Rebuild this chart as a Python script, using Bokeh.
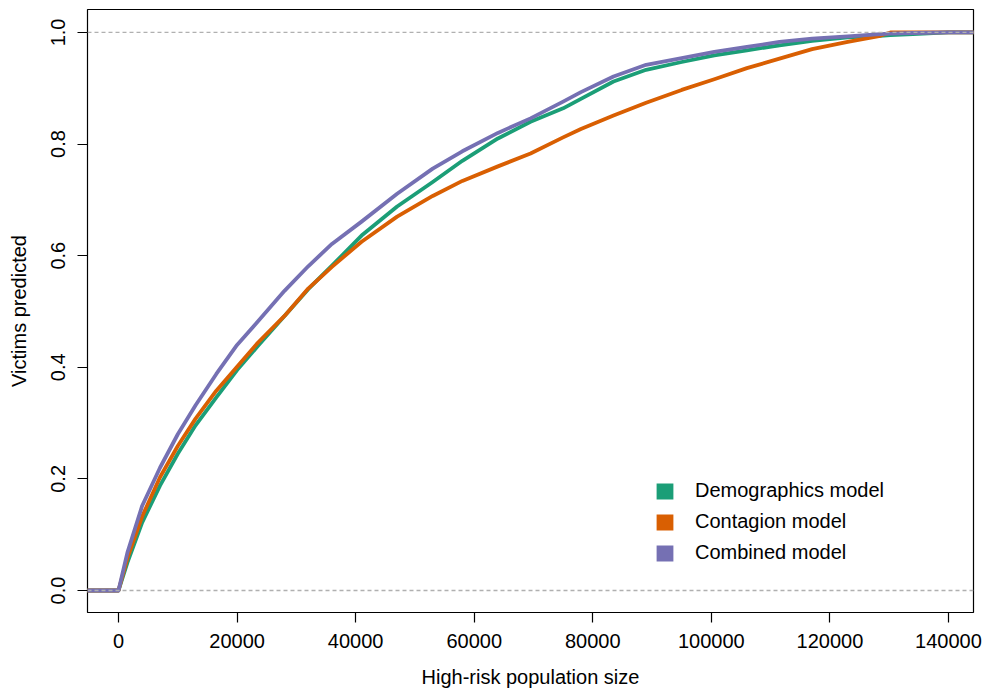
from bokeh.plotting import figure
from bokeh.models import Span, Legend, LegendItem, FixedTicker, Range1d
from bokeh.embed import file_html
from bokeh.resources import INLINE

nan = float("nan")

# ---- data ----
x_vals = [-6000, 0, 1500, 4000, 7000, 10000, 13000, 16500, 20000, 23500, 28000,
          32000, 36000, 41000, 47000, 53000, 58000, 64000, 69500, 75000, 78000,
          83500, 89000, 95000, 100500, 106000, 111500, 117000, 123000, 128500,
          130200, 134000, 140000, 146000]

demographics = [0, 0, 0.050, 0.122, 0.188, 0.245, 0.296, 0.346, 0.395, 0.438, 0.492,
                0.540, 0.582, 0.636, 0.688, 0.732, 0.770, 0.810, 0.840, 0.864, 0.881,
                0.912, 0.933, 0.947, 0.959, 0.968, 0.977, 0.985, 0.991, 0.994,
                0.995, 0.997, 1.0, 1.0]

contagion = [0, 0, 0.058, 0.133, 0.203, 0.259, 0.308, 0.358, 0.401, 0.444, 0.492,
             0.541, 0.580, 0.625, 0.670, 0.707, 0.734, 0.760, 0.783, 0.812, 0.827,
             0.851, 0.874, 0.897, 0.916, 0.936, 0.953, 0.970, 0.983, 0.994,
             1.0, 1.0, 1.0, 1.0]

combined = [0, 0, 0.068, 0.152, 0.220, 0.280, 0.332, 0.388, 0.440, 0.482, 0.537,
            0.581, 0.621, 0.661, 0.711, 0.756, 0.787, 0.820, 0.846, 0.876, 0.893,
            0.921, 0.942, 0.954, 0.965, 0.974, 0.983, 0.989, 0.993, 0.997,
            0.998, 0.999, 1.0, 1.0]

series_names = ["Demographics model", "Contagion model", "Combined model"]
series_colors = ["#1B9E77", "#D95F02", "#7570B3"]

x_ticks = [0, 20000, 40000, 60000, 80000, 100000, 120000, 140000]
x_tick_labels = ["0", "20000", "40000", "60000", "80000", "100000", "120000", "140000"]
y_ticks = [0.0, 0.2, 0.4, 0.6, 0.8, 1.0]
y_tick_labels = ["0.0", "0.2", "0.4", "0.6", "0.8", "1.0"]

FONT = "Liberation Sans"

p = figure(width=985, height=690, output_backend="svg", toolbar_location=None,
           x_range=Range1d(-5230, 144220), y_range=Range1d(-0.0394, 1.0411),
           min_border_left=87, min_border_right=12, min_border_top=9,
           min_border_bottom=77)

p.background_fill_color = "white"
p.border_fill_color = "white"
p.outline_line_color = "black"
p.outline_line_width = 1.2
p.xgrid.visible = False
p.ygrid.visible = False

renderers = []
for ys, col in zip([demographics, contagion, combined], series_colors):
    r = p.line(x_vals, ys, line_color=col, line_width=3.8, line_join="round")
    renderers.append(r)

for yv in [0.0, 1.0]:
    p.add_layout(Span(location=yv, dimension="width", line_color="#b0b0b0",
                      line_width=1.3, line_dash="4 3"))

# axes
p.xaxis.ticker = FixedTicker(ticks=x_ticks)
p.xaxis.major_label_overrides = {t: l for t, l in zip(x_ticks, x_tick_labels)}
p.yaxis.ticker = FixedTicker(ticks=y_ticks)
p.yaxis.major_label_overrides = {t: l for t, l in zip(y_ticks, y_tick_labels)}
p.yaxis.major_label_orientation = "vertical"

for ax in [p.xaxis[0], p.yaxis[0]]:
    ax.axis_line_color = None
    ax.major_tick_line_color = "black"
    ax.major_tick_line_width = 1.2
    ax.major_tick_out = 10
    ax.major_tick_in = 0
    ax.minor_tick_line_color = None
    ax.major_label_text_font = FONT
    ax.major_label_text_font_size = "20px"
    ax.major_label_text_color = "black"
    ax.axis_label_text_font = FONT
    ax.axis_label_text_font_size = "20px"
    ax.axis_label_text_font_style = "normal"
    ax.axis_label_text_color = "black"

p.xaxis.axis_label = "High-risk population size"
p.yaxis.axis_label = "Victims predicted"
p.xaxis.major_label_standoff = 11
p.yaxis.major_label_standoff = 12
p.xaxis.axis_label_standoff = 15
p.yaxis.axis_label_standoff = 19

# legend with filled squares
legend_items = []
for name, col in zip(series_names, series_colors):
    q = p.quad(left=[nan], right=[nan], top=[nan], bottom=[nan],
               fill_color=col, line_color=None)
    legend_items.append(LegendItem(label=name, renderers=[q]))

legend = Legend(items=legend_items, location=(567, 48), orientation="vertical",
                padding=0, margin=0, spacing=8, glyph_width=21, glyph_height=20,
                label_height=20, label_standoff=20,
                label_text_font=FONT, label_text_font_size="20px",
                label_text_color="black",
                border_line_color=None, background_fill_alpha=0)
p.add_layout(legend)

open("out.html", "w").write(file_html(p, INLINE))
